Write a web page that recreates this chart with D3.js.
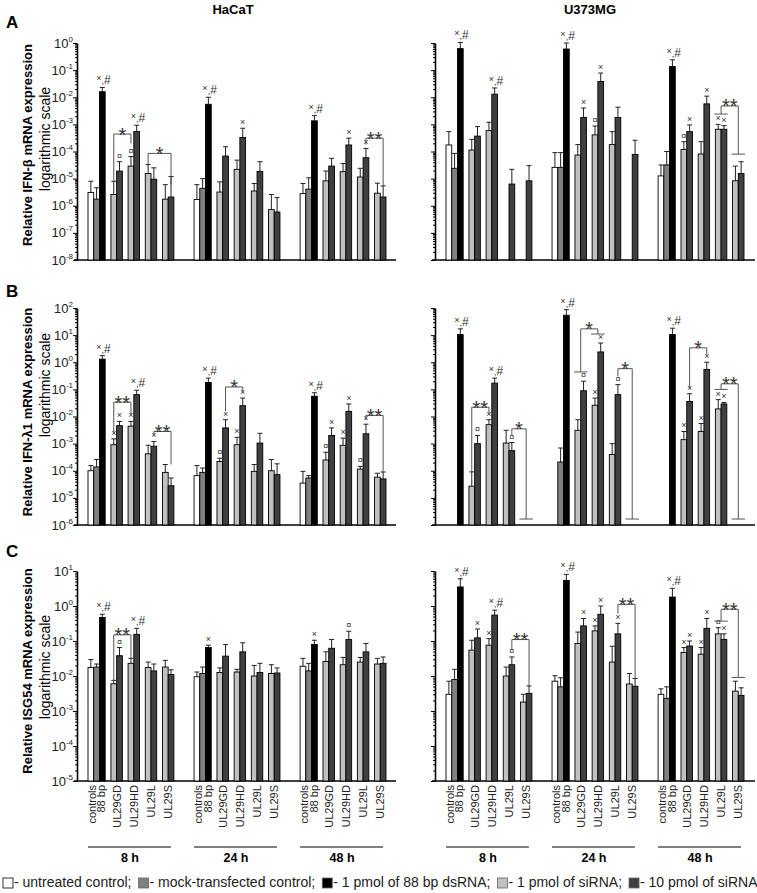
<!DOCTYPE html>
<html>
<head>
<meta charset="utf-8">
<script src="https://cdn.jsdelivr.net/npm/d3@7"></script>
<style>
  body { margin: 0; background: #fff; }
  svg text { font-family: "Liberation Sans", Arial, Helvetica, sans-serif; }
</style>
</head>
<body>
<svg id="chart" width="757" height="893"></svg>
<script>
// ---- data ----
const times = ['8 h', '24 h', '48 h'];
const catLabels = ['controls', '88 bp', 'UL29GD', 'UL29HD', 'UL29L', 'UL29S'];
const seriesNames = ['untreated control', 'mock-transfected control', '1 pmol of 88 bp dsRNA', '1 pmol of siRNA', '10 pmol of siRNA'];
// 11 bars per time point: untreated, mock, dsRNA, then 1/10 pmol for GD, HD, L, S
const barSeries = [0, 1, 2, 3, 4, 3, 4, 3, 4, 3, 4];
const colors = ['#ffffff', '#808080', '#000000', '#c0c0c0', '#404040'];

// A: IFN-beta
const ifnbHaCaT = [
  [3.1e-6, 1.75e-6, 1.6e-2, 2.6e-6, 1.9e-5, 2.9e-5, 5.5e-4, 1.55e-5, 9.5e-6, 1.75e-6, 2.1e-6],
  [1.7e-6, 4.4e-6, 5.5e-3, 3.2e-6, 6.8e-5, 2.2e-5, 3.3e-4, 3.5e-6, 1.85e-5, 7.2e-7, 5.9e-7],
  [2.8e-6, 4.1e-6, 1.35e-3, 8.3e-6, 2.9e-5, 1.8e-5, 1.74e-4, 1.15e-5, 5.9e-5, 2.9e-6, 2.1e-6]
];
const ifnbHaCaTErr = [
  [8e-6, 4.6e-6, 2.3e-2, 8e-6, 4.2e-5, 6.5e-5, 9.3e-4, 3.3e-5, 2.5e-5, 6e-6, 1.2e-5],
  [6e-6, 1e-5, 1e-2, 7.6e-6, 1.5e-4, 4.8e-5, 7.2e-4, 6.6e-6, 4.2e-5, 2.6e-6, 2e-6],
  [6.6e-6, 1.07e-5, 2.1e-3, 1.9e-5, 5.6e-5, 3.6e-5, 3.1e-4, 2.4e-5, 1.3e-4, 6.8e-6, 5.4e-6]
];
const ifnbHaCaTMark = ['..#.oo#....', '..#...x....', '..#...x.x..'];
// [time, bar a, leg a end, bar b, leg b end, top, label, cap a, cap b]
const ifnbHaCaTSig = [
  [0, 3, 8e-6, 5, 2e-4, 4.4e-4, '*', 0, 0],
  [0, 7, 3.3e-5, 10, 6e-6, 8.5e-5, '*', 0, 0],
  [2, 8, 1.8e-4, 10, 5.4e-6, 3.1e-4, '**', 0, 0]
];

const ifnbU373 = [
  [1.74e-4, 2.4e-5, 0.62, 1.13e-4, 3.7e-4, 5.9e-4, 1.3e-2, null, 6.3e-6, null, 8.3e-6],
  [2.6e-5, 2.6e-5, 0.6, 7.4e-5, 1.8e-3, 4.1e-4, 3.8e-2, 1.8e-4, 1.8e-3, null, 7.8e-5],
  [1.26e-5, 3.2e-5, 0.137, 1.2e-4, 5.4e-4, 8.1e-5, 5.7e-3, 6.6e-4, 6.6e-4, 8.3e-6, 1.55e-5]
];
const ifnbU373Err = [
  [5.4e-4, 8.5e-5, 1.05, 2.8e-4, 8.3e-4, 1.2e-3, 2.2e-2, null, 2.2e-5, null, 3e-5],
  [9.1e-5, 9.1e-5, 1.0, 1.8e-4, 4e-3, 8.7e-4, 7.8e-2, 5.4e-4, 4.3e-3, null, 2.6e-4],
  [3.2e-5, 1e-4, 0.24, 2.3e-4, 9.5e-4, 2.3e-4, 1.1e-2, 1e-3, 9e-4, 2.9e-5, 4.2e-5]
];
const ifnbU373Mark = ['..#...#....', '..#.xox....', '..#ox.xxx..'];
const ifnbU373Sig = [
  [2, 7, 2.4e-3, 9, 8e-5, 4.8e-3, '**', 1, 1]
];

// B: IFN-lambda1
const ifnlHaCaT = [
  [1e-4, 1.38e-4, 1.3, 9.1e-4, 4.6e-3, 4.4e-3, 6.4e-2, 4.2e-4, 8e-4, 8.7e-5, 2.8e-5],
  [6.6e-5, 8.7e-5, 0.18, 2.2e-4, 3.8e-3, 9.1e-4, 2.5e-2, 9.5e-5, 1.05e-3, 1e-4, 7.2e-5],
  [3.5e-5, 5.4e-5, 5.6e-2, 2.5e-4, 2e-3, 8.7e-4, 1.55e-2, 1.15e-4, 2.3e-3, 5.8e-5, 5e-5]
];
const ifnlHaCaTErr = [
  [1.55e-4, 2.6e-4, 1.75, 1.5e-3, 6.6e-3, 6.6e-3, 9.3e-2, 8.7e-4, 1.2e-3, 1.7e-4, 5.4e-5],
  [1.55e-4, 1.26e-4, 0.26, 2.9e-4, 7.6e-3, 1.7e-3, 4.8e-2, 1.7e-4, 2.4e-3, 2.6e-4, 1.8e-4],
  [9.5e-5, 6.6e-5, 7.5e-2, 4.8e-4, 3.8e-3, 1.6e-3, 2.9e-2, 1.45e-4, 5.2e-3, 8.1e-5, 9e-5]
];
const ifnlHaCaTMark = ['..#xxx#.x..', '..#oxxx....', '..#oxxxox..'];
const ifnlHaCaTSig = [
  [0, 3, 2.5e-3, 5, 1.2e-2, 3.4e-2, '**', 0, 0],
  [0, 8, 2e-3, 10, 1.7e-4, 2.8e-3, '**', 0, 0],
  [1, 4, 1.55e-2, 6, 7.4e-2, 0.123, '*', 0, 0],
  [2, 8, 7.4e-3, 10, 9e-5, 1.1e-2, '**', 0, 0]
];

const ifnlU373 = [
  [null, null, 10.5, 2.7e-5, 1e-3, 5e-3, 0.17, 1.05e-3, 5.5e-4, null, null],
  [null, 2.1e-4, 54, 3.1e-3, 8.9e-2, 2.6e-2, 2.4, 4e-4, 6.4e-2, null, null],
  [null, null, 10.5, 1.4e-3, 3.6e-2, 2.8e-3, 0.54, 1.9e-2, 2.9e-2, null, null]
];
const ifnlU373Err = [
  [null, null, 17, 9.1e-5, 2e-3, 7.6e-3, 0.26, 3.1e-3, 1.1e-3, null, null],
  [null, 6.9e-4, 87, 7.6e-3, 0.2, 4.8e-2, 5.1, 1e-3, 0.15, null, null],
  [null, null, 18, 2.8e-3, 6.9e-2, 5.5e-3, 1.0, 4.2e-2, 3.3e-2, null, null]
];
const ifnlU373Mark = ['..#.ox#.o..', '..#.oxx.o..', '..#xxxxxx..'];
const ifnlU373Sig = [
  [0, 3, 9.1e-5, 5, 1.2e-2, 2.2e-2, '**', 0, 0],
  [0, 8, 2.1e-3, 9, 1.66e-6, 3.5e-3, '*', 0, 1],
  [1, 3, 0.44, 5, 11, 17, '*', 1, 1],
  [1, 8, 0.3, 9, 1.66e-6, 0.58, '*', 0, 1],
  [2, 4, 0.11, 6, 1.9, 3.4, '*', 0, 0],
  [2, 7, 0.1, 9, 1.66e-6, 0.16, '**', 1, 1]
];

// C: ISG54
const isgHaCaT = [
  [1.74e-2, 1.8e-2, 0.47, 6e-3, 3.8e-2, 2.3e-2, 0.155, 1.74e-2, 1.4e-2, 1.8e-2, 1.1e-2],
  [9.5e-3, 1.18e-2, 6.5e-2, 1.26e-2, 3.7e-2, 1.3e-2, 4.9e-2, 1e-2, 1.26e-2, 1.18e-2, 1.22e-2],
  [1.9e-2, 1.4e-2, 8e-2, 2.6e-2, 6.2e-2, 2.1e-2, 0.11, 2.5e-2, 4.9e-2, 2.2e-2, 2.3e-2]
];
const isgHaCaTErr = [
  [2.95e-2, 2.2e-2, 0.58, 7.5e-3, 6.5e-2, 3.2e-2, 0.23, 2.5e-2, 2.2e-2, 2.8e-2, 1.5e-2],
  [1.3e-2, 1.8e-2, 7.6e-2, 1.7e-2, 7.9e-2, 1.55e-2, 8.9e-2, 2e-2, 2.3e-2, 2.1e-2, 1.7e-2],
  [3.2e-2, 2.3e-2, 0.105, 4.9e-2, 0.11, 3.4e-2, 0.19, 3.4e-2, 8.5e-2, 3.2e-2, 3.5e-2]
];
const isgHaCaTMark = ['..#.o.#....', '..x........', '..x...o....'];
const isgHaCaTSig = [
  [0, 3, 7.5e-3, 5, 3.2e-2, 0.15, '**', 0, 0]
];

const isgU373 = [
  [3e-3, 7.9e-3, 3.5, 5.5e-2, 0.123, 7.6e-2, 0.55, 1e-2, 2.1e-2, 1.8e-3, 3.2e-3],
  [7.1e-3, 4.9e-3, 5.4, 8.5e-2, 0.27, 0.195, 0.58, 2.5e-2, 0.16, 5.9e-3, 5.1e-3],
  [3e-3, 2.3e-3, 1.8, 4.7e-2, 7.2e-2, 4.2e-2, 0.23, 0.16, 0.11, 3.7e-3, 2.8e-3]
];
const isgU373Err = [
  [7.1e-3, 1.55e-2, 6.0, 0.105, 0.22, 0.117, 0.76, 1.8e-2, 3.5e-2, 3e-3, 5.2e-3],
  [1.02e-2, 8.9e-3, 8, 0.18, 0.44, 0.27, 1.0, 7.1e-2, 0.32, 1.18e-2, 8.5e-3],
  [4.3e-3, 4.9e-3, 3.2, 6.5e-2, 0.1, 6.5e-2, 0.44, 0.24, 0.16, 7.1e-3, 4.6e-3]
];
const isgU373Mark = ['..#.xx#.o..', '..#.xxx.x..', '..#xxxxox..'];
const isgU373Sig = [
  [0, 8, 5.5e-2, 10, 5.2e-3, 0.11, '**', 0, 0],
  [1, 8, 0.6, 10, 8.5e-3, 1.12, '**', 0, 0],
  [2, 7, 0.37, 9, 9.1e-3, 0.81, '**', 1, 1]
];

// ---- layout ----
const svg = d3.select('#chart');
const barSlot = [0, 1, 2, 4, 5, 7, 8, 10, 11, 13, 14]; // bar offsets in bar-width units
const labelSlot = [0.75, 2.35, 5, 8, 11, 14];
const sides = [
  { x0: 77, x1: 396, title: 'HaCaT', titleX: 233 },
  { x0: 435, x1: 755, title: 'U373MG', titleX: 590 }
];
const rows = [
  { tag: 'A', tagY: 28, gene: 'IFN-β', lo: 1e-8, hi: 1, bottom: 260, top: 43, l1: 145, l2: 139,
    cells: [[ifnbHaCaT, ifnbHaCaTErr, ifnbHaCaTMark, ifnbHaCaTSig], [ifnbU373, ifnbU373Err, ifnbU373Mark, ifnbU373Sig]] },
  { tag: 'B', tagY: 297, gene: 'IFN-λ1', lo: 1e-6, hi: 1e2, bottom: 525, top: 308, l1: 412, l2: 385,
    cells: [[ifnlHaCaT, ifnlHaCaTErr, ifnlHaCaTMark, ifnlHaCaTSig], [ifnlU373, ifnlU373Err, ifnlU373Mark, ifnlU373Sig]] },
  { tag: 'C', tagY: 557, gene: 'ISG54', lo: 1e-5, hi: 1e1, bottom: 781, top: 571, l1: 671, l2: 667,
    cells: [[isgHaCaT, isgHaCaTErr, isgHaCaTMark, isgHaCaTSig], [isgU373, isgU373Err, isgU373Mark, isgU373Sig]] }
];

sides.forEach(s => {
  svg.append('text').attr('x', s.titleX).attr('y', 14).attr('text-anchor', 'middle')
    .attr('font-size', 13).attr('font-weight', 'bold').text(s.title);
});

rows.forEach((r, ri) => {
  svg.append('text').attr('x', 6).attr('y', r.tagY).attr('font-size', 17).attr('font-weight', 'bold').text(r.tag);

  svg.append('text').attr('transform', `translate(27,${r.l1}) rotate(-90)`)
    .attr('text-anchor', 'middle').attr('dominant-baseline', 'central')
    .attr('font-size', 13).attr('font-weight', 'bold')
    .text(`Relative ${r.gene} mRNA expression`);
  svg.append('text').attr('transform', `translate(45,${r.l2}) rotate(-90)`)
    .attr('text-anchor', 'middle').attr('dominant-baseline', 'central')
    .attr('font-size', 14).text('logarithmic scale');

  const y = d3.scaleLog().domain([r.lo, r.hi]).range([r.bottom, r.top]);
  const eLo = Math.round(Math.log10(r.lo)), eHi = Math.round(Math.log10(r.hi));
  const ticks = [];
  for (let e = eLo; e <= eHi; e++) {
    for (let m = 1; m <= 9; m++) {
      if (e === eHi && m > 1) break;
      ticks.push(m * Math.pow(10, e));
    }
  }

  sides.forEach((s, si) => {
    const [vals, errs, marks, sig] = r.cells[si];
    const g = svg.append('g');
    const xg = d3.scaleBand().domain(times).range([s.x0 + 11, s.x0 + 309]).paddingInner(0.19).paddingOuter(0);
    const xu = d3.scaleLinear().domain([0, 15]).range([0, xg.bandwidth()]);
    const bw = xu(1) - xu(0);

    // y axis
    const ax = g.append('g').attr('transform', `translate(${s.x0},0)`)
      .call(d3.axisLeft(y).tickValues(ticks).tickFormat('').tickSizeOuter(0));
    ax.select('.domain').attr('stroke-width', 1.6);
    ax.selectAll('.tick line').attr('x2', d => {
      const e = Math.log10(d);
      return Math.abs(e - Math.round(e)) < 1e-6 ? -4 : -2;
    }).attr('stroke-width', 1);

    if (si === 0) {
      for (let e = eLo; e <= eHi; e++) {
        const t = g.append('text').attr('x', s.x0 - 4).attr('y', y(Math.pow(10, e)) + 4.6)
          .attr('text-anchor', 'end').attr('font-size', 13).attr('fill', '#222');
        t.append('tspan').text('10');
        t.append('tspan').attr('font-size', 8).attr('dy', -6).text(String(e));
      }
    }

    // baseline
    g.append('line').attr('x1', s.x0 - 3).attr('x2', s.x1).attr('y1', y(r.lo)).attr('y2', y(r.lo))
      .attr('stroke', '#000').attr('stroke-width', 1.6);

    times.forEach((tm, ti) => {
      const gx = xg(tm);
      vals[ti].forEach((v, i) => {
        if (v == null) return;
        const bx = gx + xu(barSlot[i]);
        const cx = bx + bw / 2;
        const er = errs[ti][i];
        if (er != null) {
          g.append('line').attr('x1', cx).attr('x2', cx).attr('y1', y(v)).attr('y2', y(er))
            .attr('stroke', '#222').attr('stroke-width', 1);
          g.append('line').attr('x1', cx - 2.5).attr('x2', cx + 2.5).attr('y1', y(er)).attr('y2', y(er))
            .attr('stroke', '#222').attr('stroke-width', 1);
        }
        g.append('rect').attr('x', bx).attr('y', y(v)).attr('width', bw).attr('height', y(r.lo) - y(v))
          .attr('fill', colors[barSeries[i]]).attr('stroke', '#000').attr('stroke-width', 0.9);

        const mk = marks[ti][i];
        const my = y(er != null ? er : v) - 3;
        if (mk === '#') {
          const t = g.append('text').attr('x', cx - 6).attr('y', my).attr('fill', '#333');
          t.append('tspan').attr('font-size', 9).attr('dy', -3).text('×');
          t.append('tspan').attr('font-size', 9).attr('dy', 3).text(',');
          t.append('tspan').attr('font-size', 12).text('#');
        } else if (mk === 'x') {
          g.append('text').attr('x', cx).attr('y', my).attr('text-anchor', 'middle')
            .attr('font-size', 9).attr('fill', '#333').text('×');
        } else if (mk === 'o') {
          g.append('text').attr('x', cx).attr('y', my).attr('text-anchor', 'middle')
            .attr('font-size', 9).attr('fill', '#333').text('¤');
        }
      });

      // significance brackets
      sig.filter(d => d[0] === ti).forEach(([, a, aEnd, b, bEnd, top, label, capA, capB]) => {
        const legX = (i, cap) => gx + xu(barSlot[i] + (cap ? 1 : 0.5));
        const xa = legX(a, capA), xb = legX(b, capB), yt = y(top);
        g.append('path').attr('d', `M${xa},${y(aEnd)}V${yt}H${xb}V${y(bEnd)}`)
          .attr('fill', 'none').attr('stroke', '#555').attr('stroke-width', 1);
        [[a, aEnd, capA], [b, bEnd, capB]].forEach(([i, end, cap]) => {
          if (!cap) return;
          g.append('line').attr('x1', gx + xu(barSlot[i]) - 1).attr('x2', gx + xu(barSlot[i] + 2) + 1)
            .attr('y1', y(end)).attr('y2', y(end)).attr('stroke', '#555').attr('stroke-width', 1);
        });
        g.append('text').attr('x', (xa + xb) / 2).attr('y', yt + 7.5).attr('text-anchor', 'middle')
          .attr('font-size', 20).attr('fill', '#333').text(label);
      });

      // category labels and time axis below the last row
      if (ri === rows.length - 1) {
        catLabels.forEach((c, k) => {
          g.append('text').attr('transform', `translate(${gx + xu(labelSlot[k])},${y(r.lo) + 4}) rotate(-90)`)
            .attr('text-anchor', 'end').attr('dominant-baseline', 'central')
            .attr('font-size', 11).attr('fill', '#222').text(c);
        });
        g.append('line').attr('x1', gx).attr('x2', gx + xg.bandwidth() - 3)
          .attr('y1', 847).attr('y2', 847).attr('stroke', '#000').attr('stroke-width', 1);
        g.append('text').attr('x', gx + xg.bandwidth() / 2 - 1).attr('y', 862).attr('text-anchor', 'middle')
          .attr('font-size', 12.5).attr('font-weight', 'bold').text(tm);
      }
    });
  });
});

// legend
const legend = svg.append('g');
let lx = 3;
seriesNames.forEach((name, i) => {
  legend.append('rect').attr('x', lx).attr('y', 878).attr('width', 10).attr('height', 10)
    .attr('fill', colors[i]).attr('stroke', i === 0 ? '#000' : '#666').attr('stroke-width', 0.8);
  const t = legend.append('text').attr('x', lx + 11).attr('y', 887).attr('font-size', 14).attr('fill', '#222')
    .text(`- ${name}${i < seriesNames.length - 1 ? ';' : ''}`);
  lx += 11 + t.node().getComputedTextLength() + 7;
});
</script>
</body>
</html>
